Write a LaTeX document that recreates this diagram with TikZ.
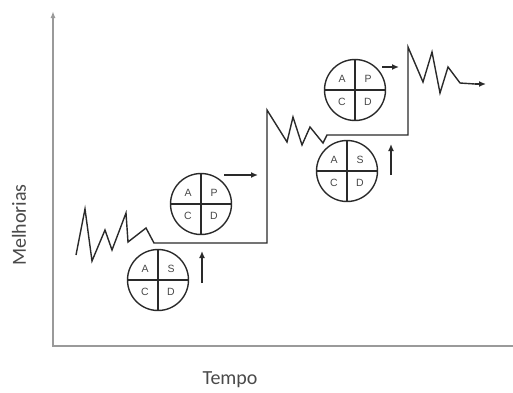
\documentclass[tikz,border=0pt]{standalone}
\usepackage{fontspec}
\setmainfont{Carlito}
\newfontfamily\lblfont{Liberation Sans}
\usetikzlibrary{arrows.meta}
\definecolor{axisgray}{HTML}{9A9A9A}
\definecolor{ink}{HTML}{2A2A2A}
\definecolor{lettergray}{HTML}{484848}
\tikzset{
  axis/.style={draw=axisgray, line width=1.5pt},
  curve/.style={draw=ink, line width=1.4pt, line join=miter},
  pdca/.style={circle, draw=ink, line width=1.4pt, minimum size=61pt, inner sep=0pt},
  quad/.style={ink, line width=1.4pt},
  letter/.style={font=\lblfont\fontsize{10.5}{10.5}\selectfont, text=lettergray, inner sep=0pt},
  marrow/.style={draw=ink, line width=1.4pt, -{Latex[length=7pt,width=6pt]}},
  axlabel/.style={font=\fontsize{20}{20}\selectfont, text=ink!85}
}
\newcommand{\pdcacircle}[6]{%
  \node[pdca] (#1) at (#2) {};
  \draw[quad] (#1.north) -- (#1.south);
  \draw[quad] (#1.west) -- (#1.east);
  \node[letter] (#1-a) at ([shift={(-13pt,11pt)}]#1.center) {#3};
  \node[letter] (#1-b) at ([shift={(13pt,11pt)}]#1.center) {#4};
  \node[letter] (#1-c) at ([shift={(-13pt,-12pt)}]#1.center) {#5};
  \node[letter] (#1-d) at ([shift={(13pt,-12pt)}]#1.center) {#6};
}
\begin{document}
\begin{tikzpicture}[x=1pt,y=-1pt]
\useasboundingbox (0,0) rectangle (513,392);
% axes
\coordinate (ytop) at (53,11);
\coordinate (O) at (53,346);
\coordinate (xend) at (513,346);
\draw[axis, {Latex[length=7pt,width=5pt]}-] (ytop) -- (O) -- (xend);
\node[axlabel, rotate=90] (ylab) at (19,225) {Melhorias};
\node[axlabel] (xlab) at (230,380) {Tempo};
% improvement curve
\draw[curve] (76,255) -- (85,209) -- (92,261) -- (105,230) -- (112,250)
  -- (126,213) -- (128,242) -- (146,228) -- (154,243) -- (267,243)
  -- (267,110) -- (287,142) -- (293,117) -- (302,145) -- (310,127)
  -- (323,143) -- (327,135) -- (408,135) -- (408,47) -- (423,82)
  -- (432,52) -- (440,93) -- (448,67) -- (460,83) -- (475,84);
\coordinate (endA) at (475,84);
\coordinate (endB) at (486,84);
\draw[marrow] (endA) -- (endB);
% PDCA circles
\pdcacircle{c1}{158,280}{A}{S}{C}{D}
\pdcacircle{c2}{201,204}{A}{P}{C}{D}
\pdcacircle{c3}{355,90}{A}{P}{C}{D}
\pdcacircle{c4}{347,171}{A}{S}{C}{D}
% small arrows
\coordinate (a1s) at (202,283); \coordinate (a1e) at (202,251);
\coordinate (a2s) at (224,175); \coordinate (a2e) at (258,175);
\coordinate (a3s) at (382,67); \coordinate (a3e) at (399,67);
\coordinate (a4s) at (391,175); \coordinate (a4e) at (391,144);
\draw[marrow] (a1s) -- (a1e);
\draw[marrow] (a2s) -- (a2e);
\draw[marrow] (a3s) -- (a3e);
\draw[marrow] (a4s) -- (a4e);
\end{tikzpicture}
\end{document}
